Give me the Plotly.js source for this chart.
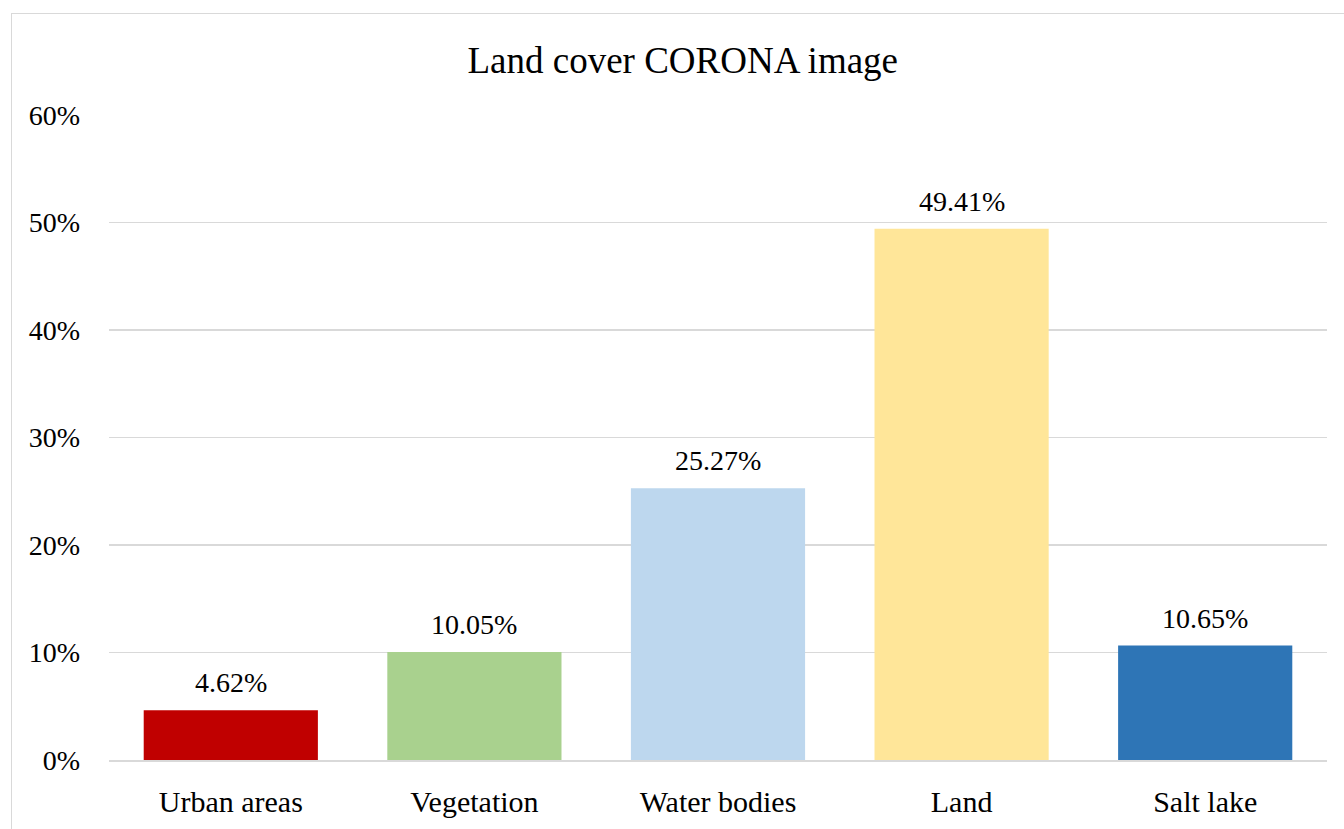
<!DOCTYPE html>
<html>
<head>
<meta charset="utf-8">
<script src="https://cdn.plot.ly/plotly-3.0.1.min.js"></script>
<style>
html,body{margin:0;padding:0;background:#fff;overflow:hidden;}
#frame{position:absolute;left:11px;top:13px;width:1400px;height:900px;border:1px solid #d9d9d9;box-sizing:border-box;}
#chart{position:absolute;left:0;top:0;width:1344px;height:829px;}
</style>
</head>
<body>
<div id="frame"></div>
<div id="chart"></div>
<script>
const categories = ["Urban areas", "Vegetation", "Water bodies", "Land", "Salt lake"];
const values = [4.62, 10.05, 25.27, 49.41, 10.65];
const barColors = ["#C00000", "#A9D18E", "#BDD7EE", "#FFE699", "#2E75B6"];
const yTicks = [0, 10, 20, 30, 40, 50, 60];

const fontFam = "Liberation Serif, DejaVu Serif, serif";

const trace = {
  type: "bar",
  x: categories,
  y: values,
  marker: {color: barColors, line: {width: 0}},
  hoverinfo: "skip"
};

const labelAnnotations = categories.map((c, i) => ({
  x: c, y: values[i], xref: "x", yref: "y",
  text: values[i].toFixed(2) + "%",
  showarrow: false, xanchor: "center", yanchor: "bottom",
  yshift: 10,
  font: {family: fontFam, size: 28, color: "#000"}
}));

const layout = {
  width: 1344, height: 829,
  paper_bgcolor: "rgba(0,0,0,0)",
  plot_bgcolor: "rgba(0,0,0,0)",
  margin: {l: 109, r: 17, t: 115, b: 69},
  bargap: 0.285,
  showlegend: false,
  annotations: labelAnnotations,
  title: {
    text: "Land cover CORONA image",
    font: {family: fontFam, size: 37, color: "#000"},
    x: 0.508, xref: "container", xanchor: "center",
    y: 0.927, yref: "container", yanchor: "middle"
  },
  xaxis: {
    type: "category",
    tickfont: {family: fontFam, size: 30, color: "#000"},
    showgrid: false, zeroline: false,
    showline: true, linecolor: "#d9d9d9", linewidth: 2,
    ticks: "", ticklabelstandoff: 14
  },
  yaxis: {
    range: [0, 60],
    tickvals: yTicks,
    ticktext: yTicks.map(v => v + "%"),
    tickfont: {family: fontFam, size: 28, color: "#000"},
    showgrid: true, gridcolor: "#d9d9d9", gridwidth: 1.5,
    zeroline: false, showline: false,
    ticks: "", ticklabelstandoff: 28
  },
  font: {family: fontFam}
};

Plotly.newPlot("chart", [trace], layout, {displayModeBar: false, staticPlot: true});
</script>
</body>
</html>
